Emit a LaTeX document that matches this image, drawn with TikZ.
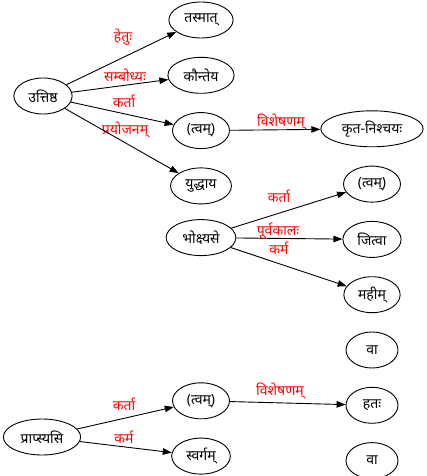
\documentclass[tikz,border=0pt]{standalone}
\usepackage{fontspec}
\newfontfamily\deva[Script=Devanagari]{Noto Sans}
\usetikzlibrary{shapes.geometric,arrows.meta,positioning}

\begin{document}
\begin{tikzpicture}[
    x=1pt, y=-1pt,
    node distance=18.4pt,
    word/.style={ellipse, draw=black, line width=0.9pt, minimum width=52pt, minimum height=36pt, inner xsep=6pt, inner ysep=0pt, font=\deva\fontsize{14}{16}\selectfont},
    rel/.style={text=red, inner sep=0pt, font=\deva\fontsize{14}{16}\selectfont},
    edge/.style={-{Triangle[length=9pt, width=6.5pt]}, line width=0.9pt}
]
\useasboundingbox (0,0) rectangle (427,476);

% verbs
\node[word] (utt) at (43,96) {उत्तिष्ठ};
\node[word] (bhok) at (201,237.6) {भोक्ष्यसे};
\node[word] (prap) at (42,437) {प्राप्स्यसि};

% column of dependents
\node[word] (tas) at (201,20) {तस्मात्};
\node[word, below=of tas] (kaun) {कौन्तेय};
\node[word, below=of kaun] (tv1) {(त्वम्)};
\node[word, below=of tv1] (yud) {युद्धाय};
\node[word] (tv3) at (201,400.8) {(त्वम्)};
\node[word, below=of tv3] (svar) {स्वर्गम्};

% right column
\node[word] (krta) at (372,128.8) {कृत-निश्चयः};
\node[word, below=of krta] (tv2) {(त्वम्)};
\node[word, below=of tv2] (jit) {जित्वा};
\node[word, below=of jit] (mah) {महीम्};
\node[word, below=of mah] (va1) {वा};
\node[word, below=of va1] (hat) {हतः};
\node[word, below=of hat] (va2) {वा};

% relation labels
\node[rel] (l1) at (123,37) {हेतुः};
\node[rel] (l2) at (125,75) {सम्बोध्यः};
\node[rel] (l3) at (124,101) {कर्ता};
\node[rel] (l4) at (125,130) {प्रयोजनम्};
\node[rel] (l5) at (281,122) {विशेषणम्};
\node[rel] (l6) at (279,196) {कर्ता};
\node[rel] (l7) at (278,231) {पूर्वकालः};
\node[rel] (l8) at (279,248) {कर्म};
\node[rel] (l9) at (124,404) {कर्ता};
\node[rel] (l10) at (124,437) {कर्म};
\node[rel] (l11) at (280,391) {विशेषणम्};

\draw[edge] (utt) -- (tas);
\draw[edge] (utt) -- (kaun);
\draw[edge] (utt) -- (tv1);
\draw[edge] (utt) -- (yud);
\draw[edge] (tv1) -- (krta);
\draw[edge] (bhok) -- (tv2);
\draw[edge] (bhok) -- (jit);
\draw[edge] (bhok) -- (mah);
\draw[edge] (prap) -- (tv3);
\draw[edge] (prap) -- (svar);
\draw[edge] (tv3) -- (hat);
\end{tikzpicture}
\end{document}
